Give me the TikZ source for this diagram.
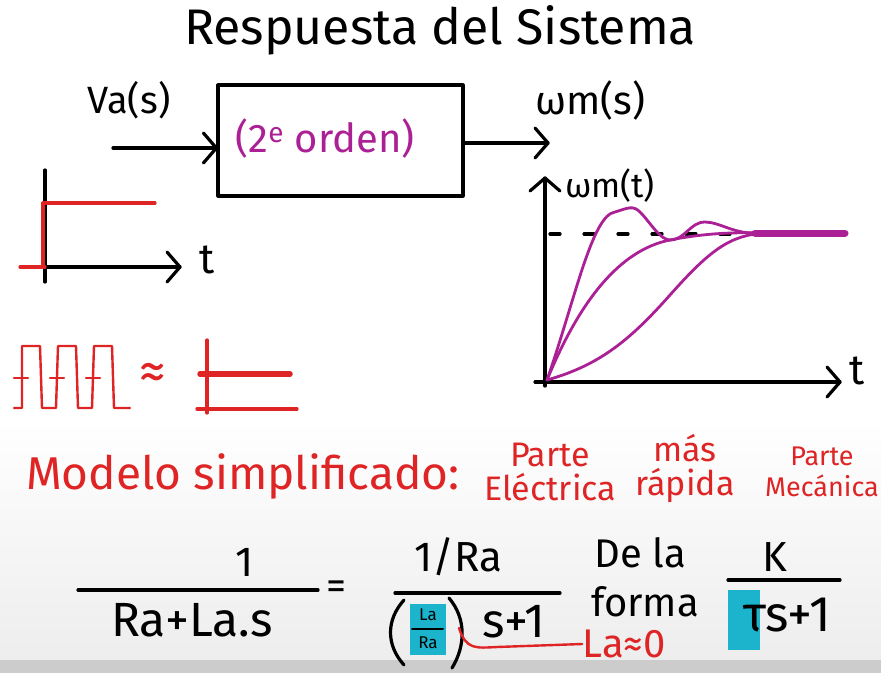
\documentclass[tikz,border=0pt]{standalone}
\usepackage{fontspec}
\setmainfont{Fira Sans}
\usetikzlibrary{arrows.meta, positioning}
\definecolor{inkred}{RGB}{222,36,36}
\definecolor{inkmag}{RGB}{172,32,150}
\definecolor{hlcyan}{RGB}{28,180,204}
\tikzset{
  pen/.style={line width=3.2pt, line cap=round, line join=round},
  chevron/.pic={\draw[pen] (-13,-15) -- (0,0) -- (-13,15);},
  redpen/.style={pen, draw=inkred},
  magpen/.style={pen, draw=inkmag, line width=2.8pt},
  hand/.style={inner sep=0pt, font=\fontsize{#1}{#1}\selectfont},
  hilite/.style={fill=hlcyan}
}

\begin{document}
\begin{tikzpicture}[x=1pt, y=-1pt]
  % fondo
  \fill[white] (0,0) rectangle (881,673);
  \shade[top color=white, bottom color=gray!14] (0,420) rectangle (881,660);
  \fill[gray!40] (0,660) rectangle (881,673);
  \useasboundingbox (0,0) rectangle (881,673);

  % titulo
  \node[hand=50] (title) at (440,30) {Respuesta del Sistema};

  % bloque del sistema
  \node[draw, pen, minimum width=245pt, minimum height=111pt] (sys) at (340.5,140.5) {};
  \node[hand=40, text=inkmag] (order) at (325,138) {(2\textsuperscript{e} orden)};
  \coordinate (vin) at (113,148);
  \coordinate (wout) at (548,143);
  \draw[pen] (vin) -- (vin -| sys.west) pic {chevron};
  \draw[pen] (wout -| sys.east) -- (wout) pic {chevron};
  \node[hand=38] (va) at (129,100) {Va(s)};
  \node[hand=40] (wms) at (590,100) {ωm(s)};

  % escalon de entrada
  \draw[pen] (45,170) -- (45,282);
  \draw[pen] (45,267) -- (180,267) pic {chevron};
  \node[hand=42] (t1) at (207,260) {t};
  \draw[redpen] (20,267) -- (45,267);
  \draw[redpen] (43,267) -- (43,203) -- (155,203);

  % tren de pulsos ~ escalon
  \draw[redpen, line width=2.4pt] (14,408) -- (22,408) -- (22,346) -- (40,346) -- (42,408)
    -- (56,408) -- (58,346) -- (76,346) -- (78,408) -- (92,408) -- (94,346)
    -- (112,346) -- (114,408) -- (130,408);
  \foreach \x in {14,50,86} {
    \draw[redpen, line width=2.4pt] (\x,378) -- ++(14,0);
  }
  \node[hand=54, text=inkred] (approx) at (153,376) {≈};
  \draw[redpen] (207,340) -- (207,413);
  \draw[redpen, line width=5.5pt] (200,374) -- (290,374);
  \draw[redpen] (197,409) -- (297,409);

  % respuesta wm(t)
  \draw[pen] (545,386) -- (545,178) pic[rotate=90] {chevron};
  \draw[pen] (535,382) -- (840,382) pic {chevron};
  \node[hand=42] (t2) at (857,371) {t};
  \node[hand=34] (wmt) at (610,186) {ωm(t)};
  \draw[pen, dash pattern=on 10pt off 24pt] (550,234) -- (755,234);
  \draw[magpen] (547,380) .. controls (575,300) and (592,215) .. (615,212)
    .. controls (628,208) and (633,205) .. (640,212)
    .. controls (650,222) and (660,240) .. (670,240)
    .. controls (685,240) and (690,222) .. (705,222)
    .. controls (720,222) and (735,235) .. (760,233);
  \draw[magpen] (547,380) .. controls (580,300) and (620,250) .. (670,240)
    .. controls (700,234) and (730,232) .. (760,233);
  \draw[magpen] (547,380) .. controls (600,365) and (630,340) .. (670,295)
    .. controls (710,250) and (730,235) .. (765,233);
  \draw[inkmag, line width=7pt, line cap=round] (755,233) -- (845,233);

  % modelo simplificado
  \node[hand=46, text=inkred, anchor=west] (model) at (26,476) {Modelo simplificado:};
  \node[hand=34, text=inkred, align=center] (elec) at (550,472) {Parte\\Eléctrica};
  \node[hand=34, text=inkred, align=center] (fast) at (685,468) {más\\rápida};
  \node[hand=27, text=inkred, align=center] (mech) at (822,472) {Parte\\[4pt]Mecánica};

  % funcion de transferencia
  \node[hand=42] (num1) at (245,562) {1};
  \draw[pen] (78,590) -- (318,590);
  \node[hand=48] (den1) at (192,620) {Ra+La.s};
  \node[hand=40] (eq) at (336,590) {=};

  \node[hand=42] (num2) at (458,557) {1/Ra};
  \draw[pen] (395,593) -- (560,593);
  \fill[hilite] (410,604) rectangle (446,655);
  \draw[pen] (404,600) .. controls (386,620) and (386,645) .. (404,665);
  \node[hand=17] (la) at (428,615) {La};
  \draw[pen, line width=2pt] (412,629) -- (443,629);
  \node[hand=17] (ra) at (428,643) {Ra};
  \draw[pen] (449,598) .. controls (466,618) and (466,645) .. (452,668);
  \node[hand=48] (den2) at (514,622) {s+1};

  \node[hand=40] (dela) at (640,553) {De la};
  \node[hand=40] (forma) at (645,602) {forma};

  \node[hand=42] (num3) at (775,557) {K};
  \draw[pen] (728,580) -- (840,580);
  \fill[hilite] (728,590) rectangle (760,650);
  \node[hand=50] (den3) at (787,615) {τs+1};

  \node[hand=40, text=inkred] (laz) at (624,644) {La≈0};
  \coordinate (lamark) at (459,628);
  \draw[redpen, line width=2.4pt] (lamark) .. controls (466,650) and (476,648) .. (497,647) -- (laz.west);
\end{tikzpicture}
\end{document}
